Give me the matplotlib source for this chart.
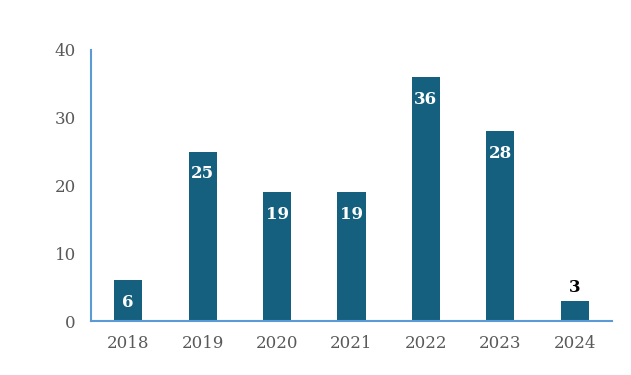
import matplotlib
matplotlib.use("Agg")
import matplotlib.pyplot as plt

years = ["2018", "2019", "2020", "2021", "2022", "2023", "2024"]
counts = [6, 25, 19, 19, 36, 28, 3]

plt.rcParams['font.family'] = ['DejaVu Serif']

fig = plt.figure(figsize=(6.31, 3.75), dpi=100)
ax = fig.add_axes([91/631, 54/375, (612-91)/631, (321-50)/375])
bar_color = "#15607f"
x = list(range(len(years)))
bars = ax.bar(x, counts, width=0.38, color=bar_color, zorder=2)
ax.set_xlim(-0.5, len(years) - 0.5)
ax.set_ylim(0, 40)
ax.set_yticks([0, 10, 20, 30, 40])
ax.set_xticks(x)
ax.set_xticklabels(years)
for s in ["top", "right"]:
    ax.spines[s].set_visible(False)
for s in ["left", "bottom"]:
    ax.spines[s].set_color("#5b9bd5")
    ax.spines[s].set_linewidth(1.5)
ax.tick_params(axis="both", length=0, labelsize=12, labelcolor="#595959")
ax.tick_params(axis="y", pad=11)
ax.tick_params(axis="x", pad=10)

for xi, v in zip(x, counts):
    if v >= 5:
        ax.annotate(str(v), (xi, v), xytext=(0, -22), textcoords="offset pixels",
                    ha="center", va="center", color="white", fontsize=12, fontweight="bold")
    else:
        ax.annotate(str(v), (xi, v), xytext=(0, 13), textcoords="offset pixels",
                    ha="center", va="center", color="black", fontsize=12, fontweight="bold")

fig.savefig("out.png", dpi=100)
